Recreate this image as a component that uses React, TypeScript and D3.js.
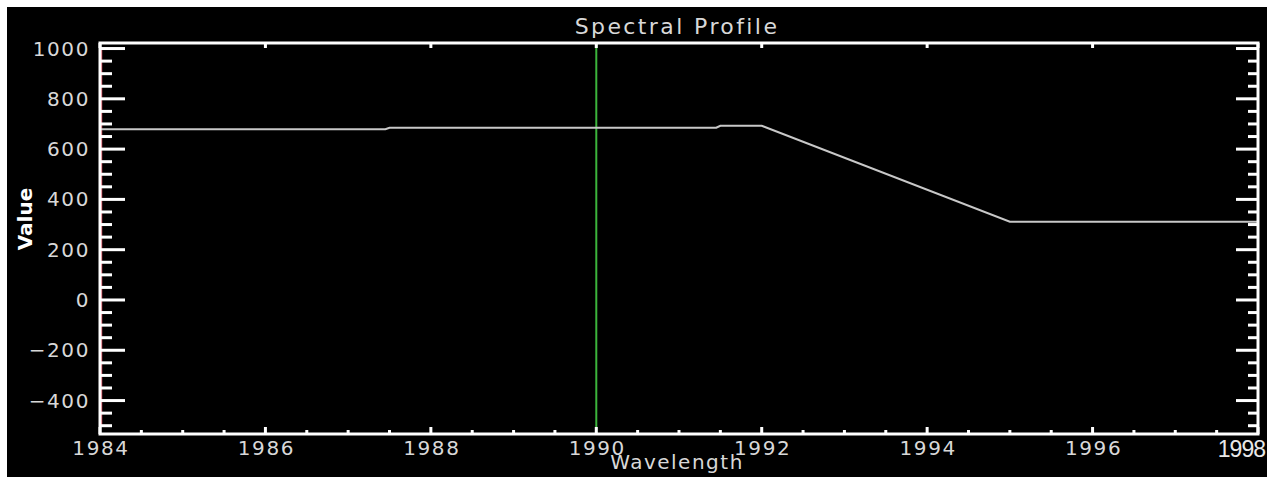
import React from "react";
import * as d3 from "d3";

const wavelengths = [1984, 1987.45, 1987.5, 1991.45, 1991.5, 1992, 1995, 1998];
const values = [679, 679, 685, 685, 693, 693, 311, 311];
const xTicks = [1984, 1986, 1988, 1990, 1992, 1994, 1996];
const yTicks = [-400, -200, 0, 200, 400, 600, 800, 1000];
const cursorWavelength = 1990;
const title = "Spectral Profile";
const xLabel = "Wavelength";
const yLabel = "Value";

const W = 1270, H = 477;
const L = 100, R = 1258, T = 43, B = 434;

export default function App() {
  const x = d3.scaleLinear().domain([1984, 1998]).range([L, R]);
  const y = d3.scaleLinear().domain([-533, 1022]).range([B, T]);
  const line = d3.line<number>().x((d, i) => x(wavelengths[i])).y((d) => y(d));
  const minorY = d3.range(-500, 1001, 50);
  const minorX = d3.range(1984, 1998.01, 0.5);
  const font = "'DejaVu Sans', sans-serif";
  const fmt = (v: number) => (v < 0 ? "\u2212" + Math.abs(v) : String(v));
  return (
    <svg width={W} height={H} style={{ position: "absolute", left: 0, top: 0, background: "#fff" }}>
      <rect x={7} y={7} width={1260} height={470} fill="#000" />
      {/* title */}
      <text x={677} y={34} fill="#d8d8d8" fontFamily={font} fontSize={22} letterSpacing={2.4} textAnchor="middle">{title}</text>
      {/* green cursor */}
      <line x1={x(cursorWavelength)} x2={x(cursorWavelength)} y1={T} y2={B} stroke="#3cb43c" strokeWidth={2} />
      {/* red marker on left */}
      <line x1={L + 1.5} x2={L + 1.5} y1={50} y2={425} stroke="#d04050" strokeWidth={1.5} />
      {/* data */}
      <path d={line(values) || ""} fill="none" stroke="#c8c8c8" strokeWidth={2} />
      {/* y ticks */}
      {minorY.map((v) => {
        const major = v % 200 === 0;
        const yy = y(v);
        return (
          <g key={"y" + v}>
            <line x1={L} x2={L + (major ? 25 : 12)} y1={yy} y2={yy} stroke="#fff" strokeWidth={3} />
            <line x1={R} x2={R - (major ? 22 : 10)} y1={yy} y2={yy} stroke="#fff" strokeWidth={3} />
          </g>
        );
      })}
      {/* x ticks */}
      {minorX.map((v) => {
        const major = Math.abs(v % 2) < 1e-6;
        const xx = x(v);
        return (
          <g key={"x" + v}>
            <line x1={xx} x2={xx} y1={B} y2={B - (major ? 7 : 4)} stroke="#fff" strokeWidth={3} />
            {major && <line x1={xx} x2={xx} y1={T} y2={T + 5} stroke="#fff" strokeWidth={3} />}
          </g>
        );
      })}
      {/* frame */}
      <rect x={L} y={T} width={R - L} height={B - T} fill="none" stroke="#fff" strokeWidth={3} />
      {/* y labels */}
      {yTicks.map((v) => (
        <text key={"yl" + v} x={90} y={y(v) + 7} fill="#d8d8d8" fontFamily={font} fontSize={20} letterSpacing={1.6} textAnchor="end">{fmt(v)}</text>
      ))}
      {/* x labels */}
      {xTicks.map((v) => (
        <text key={"xl" + v} x={x(v) + 1} y={455} fill="#d8d8d8" fontFamily={font} fontSize={20} letterSpacing={1.6} textAnchor="middle">{v}</text>
      ))}
      <text x={1265} y={457} fill="#e8e8e8" fontFamily="'Liberation Sans', Arial, sans-serif" fontSize={23} letterSpacing={-1} textAnchor="end">1998</text>
      <text x={677} y={469} fill="#d8d8d8" fontFamily={font} fontSize={20} letterSpacing={1.5} textAnchor="middle">{xLabel}</text>
      <text transform="translate(32,219) rotate(-90)" fill="#fff" fontFamily={font} fontWeight="bold" fontSize={20} textAnchor="middle">{yLabel}</text>
    </svg>
  );
}
